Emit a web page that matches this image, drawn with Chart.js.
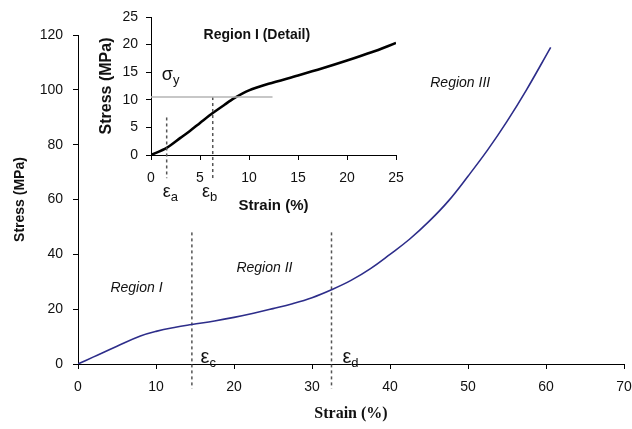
<!DOCTYPE html>
<html>
<head>
<meta charset="utf-8">
<script src="https://cdn.jsdelivr.net/npm/chart.js@4"></script>
<style>
  html, body { margin: 0; padding: 0; background: #fff; }
  #wrap { position: relative; width: 632px; height: 429px; }
  #mainChart { position: absolute; left: 0; top: 0; }
  #insetChart { position: absolute; left: 90px; top: 0; }
</style>
</head>
<body>
<div id="wrap">
  <canvas id="mainChart" width="632" height="429"></canvas>
  <canvas id="insetChart" width="330" height="225"></canvas>
</div>
<script>
// full stress-strain curve (strain %, stress MPa)
const strain = [0, 2, 5, 8, 10, 12.5, 14.6, 17.5, 20, 22.5, 25, 27.5, 30, 32.5, 35, 37.5, 40, 42.5, 45, 47.5, 50, 52.5, 55, 57.5, 60.6];
const stress = [0, 2.6, 6.5, 10.2, 11.9, 13.4, 14.4, 15.7, 17, 18.5, 20.2, 22, 24.2, 27.1, 30.5, 34.8, 40, 45.5, 52, 59.5, 68.5, 78, 88.5, 100, 115.5];

// region I detail
const detailStrain = [0, 1.6, 3, 4, 5, 6.3, 7.5, 8.5, 10, 12, 15, 17.5, 20, 22.5, 25];
const detailStress = [0, 1.3, 3.1, 4.4, 5.8, 7.6, 9.1, 10.3, 11.7, 12.9, 14.4, 15.7, 17.1, 18.6, 20.3];

// dashed strain markers
const markStrain = [14.6, 32.5];        // eps_c, eps_d
const markTop = 48;
const markBottom = -9;
const detailMarkStrain = [1.6, 6.3];    // eps_a, eps_b
const detailMarkTop = [6.8, 10.5];
const detailMarkBottom = -4.2;

// yield stress line in the detail
const yieldStress = 10.5;
const yieldEnd = 12.4;

Chart.defaults.font.family = "'Liberation Sans', Arial, sans-serif";
Chart.defaults.color = '#111';

// draws text labels (with optional subscript) at data positions
const labelPlugin = {
    id: 'labels',
    afterDatasetsDraw(chart, args, opts) {
        const ctx = chart.ctx;
        const xs = chart.scales.x;
        const ys = chart.scales.y;
        ctx.save();
        ctx.fillStyle = '#111';
        opts.items.forEach(item => {
            const px = xs.getPixelForValue(item.x);
            const py = ys.getPixelForValue(item.y);
            ctx.font = item.font;
            ctx.textAlign = item.align || 'left';
            ctx.textBaseline = item.baseline || 'alphabetic';
            ctx.fillText(item.text, px, py);
            if (item.sub) {
                const w = ctx.measureText(item.text).width;
                ctx.font = item.subFont;
                ctx.textAlign = 'left';
                ctx.fillText(item.sub, px + w, py + 4);
            }
        });
        ctx.restore();
    }
};

function toPoints(xs, ys) {
    return xs.map((x, i) => ({ x: x, y: ys[i] }));
}

function axisStyle(min, max, step, tickPad) {
    return {
        type: 'linear',
        min: min,
        max: max,
        ticks: { stepSize: step, padding: tickPad, color: '#111', font: { size: 14 } },
        grid: { display: true, drawOnChartArea: false, drawTicks: true, tickLength: 5, tickColor: '#000' },
        border: { display: true, color: '#000', width: 1 }
    };
}

// main chart
const mainX = axisStyle(0, 70, 10, 10);
mainX.title = { display: true, text: 'Strain (%)', color: '#111',
    font: { family: "'Liberation Serif', 'Times New Roman', serif", size: 16, weight: 'bold' },
    padding: { top: 0, bottom: 6 } };
mainX.afterFit = function (scale) {
    scale.height = 65;
    scale.paddingLeft = 0;
    scale.paddingRight = 8;
};

const mainY = axisStyle(0, 120, 20, 10);
mainY.title = { display: true, text: 'Stress (MPa)', color: '#111',
    font: { size: 14, weight: 'bold' }, padding: { top: 12, bottom: 0 } };
mainY.afterFit = function (scale) { scale.width = 78; };

const mainSets = [{
    data: toPoints(strain, stress),
    borderColor: '#2d2d8a',
    borderWidth: 1.6,
    tension: 0.4
}];
markStrain.forEach(s => {
    mainSets.push({
        data: [{ x: s, y: markTop }, { x: s, y: markBottom }],
        borderColor: '#555',
        borderWidth: 1.5,
        borderDash: [3, 3],
        clip: false
    });
});

new Chart(document.getElementById('mainChart').getContext('2d'), {
    type: 'scatter',
    data: { datasets: mainSets.map(d => Object.assign({ showLine: true, pointRadius: 0, fill: false }, d)) },
    options: {
        responsive: false,
        animation: false,
        layout: { padding: { top: 35, right: 0, left: 0, bottom: 0 } },
        plugins: {
            legend: { display: false },
            tooltip: { enabled: false },
            labels: { items: [
                { x: 7.5, y: 27.7, text: 'Region I', font: 'italic 14px "Liberation Sans"', align: 'center', baseline: 'middle' },
                { x: 23.9, y: 35, text: 'Region II', font: 'italic 14px "Liberation Sans"', align: 'center', baseline: 'middle' },
                { x: 49, y: 102.5, text: 'Region III', font: 'italic 14px "Liberation Sans"', align: 'center', baseline: 'middle' },
                { x: 15.7, y: 0.4, text: 'ε', sub: 'c', font: '20px "Liberation Sans"', subFont: '13px "Liberation Sans"' },
                { x: 33.9, y: 0.4, text: 'ε', sub: 'd', font: '20px "Liberation Sans"', subFont: '13px "Liberation Sans"' }
            ] }
        },
        scales: { x: mainX, y: mainY }
    },
    plugins: [labelPlugin]
});

// inset chart
const insetX = axisStyle(0, 25, 5, 9.5);
insetX.title = { display: true, text: 'Strain (%)', color: '#111',
    font: { size: 15, weight: 'bold' }, padding: { top: 0, bottom: 10 } };
insetX.afterFit = function (scale) { scale.height = 70; };

const insetY = axisStyle(0, 25, 5, 8);
insetY.title = { display: true, text: 'Stress (MPa)', color: '#111',
    font: { size: 16, weight: 'bold' }, padding: { top: 7, bottom: 0 } };
insetY.afterFit = function (scale) { scale.width = 61; };

const insetSets = [{
    data: [{ x: 0, y: yieldStress }, { x: yieldEnd, y: yieldStress }],
    borderColor: '#b4b4b4',
    borderWidth: 1.5
}];
detailMarkStrain.forEach((s, i) => {
    insetSets.push({
        data: [{ x: s, y: detailMarkTop[i] }, { x: s, y: detailMarkBottom }],
        borderColor: '#555',
        borderWidth: 1.5,
        borderDash: [3, 3],
        clip: false
    });
});
insetSets.push({
    data: toPoints(detailStrain, detailStress),
    borderColor: '#000',
    borderWidth: 2.6,
    tension: 0.3
});

new Chart(document.getElementById('insetChart').getContext('2d'), {
    type: 'scatter',
    data: { datasets: insetSets.map(d => Object.assign({ showLine: true, pointRadius: 0, fill: false }, d)) },
    options: {
        responsive: false,
        animation: false,
        layout: { padding: { top: 17, right: 24, left: 0, bottom: 0 } },
        plugins: {
            legend: { display: false },
            tooltip: { enabled: false },
            labels: { items: [
                { x: 10.8, y: 21.7, text: 'Region I (Detail)', font: 'bold 14px "Liberation Sans"', align: 'center', baseline: 'middle' },
                { x: 1.1, y: 13.6, text: 'σ', sub: 'y', font: '18px "Liberation Sans"', subFont: '13px "Liberation Sans"' },
                { x: 1.2, y: -7.6, text: 'ε', sub: 'a', font: '18px "Liberation Sans"', subFont: '13px "Liberation Sans"' },
                { x: 5.2, y: -7.6, text: 'ε', sub: 'b', font: '18px "Liberation Sans"', subFont: '13px "Liberation Sans"' }
            ] }
        },
        scales: { x: insetX, y: insetY }
    },
    plugins: [labelPlugin]
});
</script>
</body>
</html>
